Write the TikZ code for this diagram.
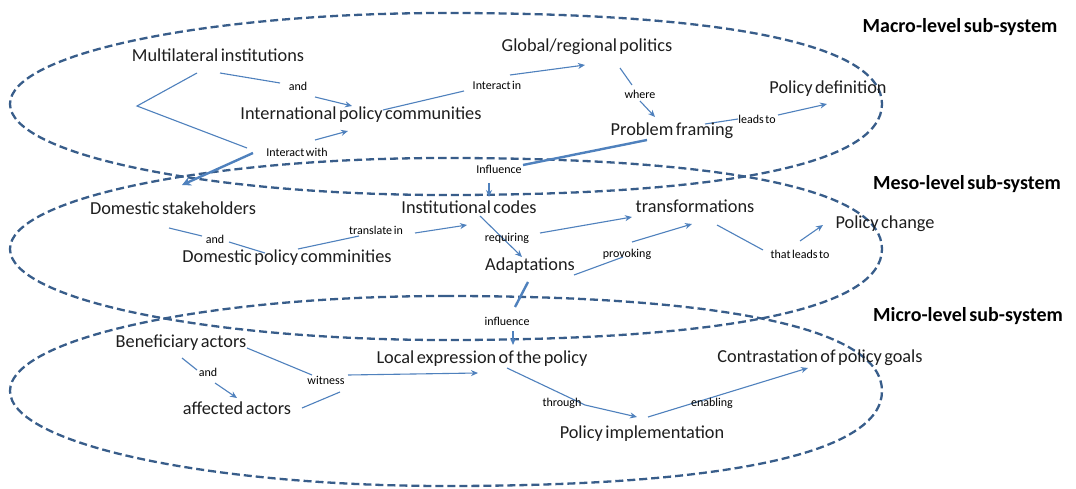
\documentclass[tikz,border=0pt]{standalone}
\usepackage{fontspec}
\setmainfont{Carlito}[WordSpace=0.6]
\usetikzlibrary{arrows.meta}
\definecolor{arr}{RGB}{79,129,189}
\definecolor{dsh}{RGB}{56,93,138}
\definecolor{txt}{RGB}{30,30,30}
\pgfdeclarelayer{bg}
\pgfsetlayers{bg,main}
% blunt-right oval: cx, cy, rx, ry
\newcommand\eggpath[4]{%
  \draw[lvl] (#1,#2-#4) .. controls (#1-0.552*#3,#2-#4) and (#1-#3,#2-0.552*#4) .. (#1-#3,#2)
    .. controls (#1-#3,#2+0.552*#4) and (#1-0.552*#3,#2+#4) .. (#1,#2+#4)
    .. controls (#1+0.65*#3,#2+#4) and (#1+#3,#2+0.65*#4) .. (#1+#3,#2)
    .. controls (#1+#3,#2-0.65*#4) and (#1+0.65*#3,#2-#4) .. cycle;}
\begin{document}
\begin{tikzpicture}[x=1pt,y=-1pt,
  lvl/.style={draw=dsh,line width=2.3pt,dash pattern=on 8pt off 4pt},
  conn/.style={draw=arr,line width=1.1pt},
  arrw/.style={conn,-{Stealth[length=7pt,width=6pt]}},
  heavy/.style={draw=arr,line width=2.4pt},
  heavyarrw/.style={heavy,-{Stealth[length=9pt,width=9pt]}},
  main/.style={inner sep=0pt,text=txt,font=\fontsize{18.3}{21}\selectfont},
  lbl/.style={inner sep=0pt,text=black,font=\fontsize{12}{14}\selectfont},
  hdr/.style={inner sep=0pt,text=black,font=\bfseries\fontsize{20}{23}\selectfont}]
\useasboundingbox (0,0) rectangle (1076,489);
\begin{pgfonlayer}{bg}
\fill[white] (0,0) rectangle (1076,489);
% sub-system ovals
\eggpath{446}{104}{436}{91}
\eggpath{446}{249}{436}{91}
\eggpath{446}{391}{436}{95}
\end{pgfonlayer}

% headers
\node[hdr] (hmac) at (960,27) {Macro-level sub-system};
\node[hdr] (hmes) at (967,184) {Meso-level sub-system};
\node[hdr] (hmic) at (968,316) {Micro-level sub-system};

% macro nodes
\node[main] (mi) at (218,55) {Multilateral institutions};
\node[main] (gp) at (587,47) {Global/regional politics};
\node[main] (ipc) at (361,115) {International policy communities};
\node[main] (pd) at (828,89) {Policy definition};
\node[main] (pf) at (672,131) {Problem framing};
\node[lbl] (and1) at (298,86) {and};
\node[lbl] (intin) at (497,85) {Interact in};
\node[lbl] (where) at (640,94) {where};
\node[lbl] (leadsto) at (757,119) {leads to};
\node[lbl] (intwith) at (297,152) {Interact with};
\node[lbl] (infl1) at (499,169) {Influence};
\coordinate (brk) at (137,106);

% meso nodes
\node[main] (ds) at (173,208) {Domestic stakeholders};
\node[main] (ic) at (469,207) {Institutional codes};
\node[main] (tr) at (695,206) {transformations};
\node[main] (pc) at (885,224) {Policy change};
\node[main] (dpc) at (287,258) {Domestic policy comminities};
\node[main] (ad) at (530,266) {Adaptations};
\node[lbl] (and2) at (215,239) {and};
\node[lbl] (transin) at (376,230) {translate in};
\node[lbl] (requiring) at (507,238) {requiring};
\node[lbl] (provoking) at (627,254) {provoking};
\node[lbl] (thatleads) at (800,254) {that leads to};
\node[lbl] (infl2) at (507,321) {influence};

% micro nodes
\node[main] (ba) at (181,343) {Beneficiary actors};
\node[main] (le) at (482,359) {Local expression of the policy};
\node[main] (cpg) at (820,358) {Contrastation of policy goals};
\node[main] (aa) at (237,408) {affected actors};
\node[main] (pimp) at (642,434) {Policy implementation};
\node[lbl] (and3) at (208,372) {and};
\node[lbl] (witness) at (326,380) {witness};
\node[lbl] (through) at (562,403) {through};
\node[lbl] (enabling) at (712,403) {enabling};

\begin{pgfonlayer}{bg}
% macro connectors
\draw[conn] ([shift={(2,18)}]mi.center) -- ([shift={(-18,-3)}]and1.center);
\draw[arrw] ([shift={(17,11)}]and1.center) -- ([shift={(-9,-9)}]ipc.center);
\draw[conn] ([shift={(-21,18)}]mi.center) -- (brk) -- ([shift={(-50,-4)}]intwith.center);
\draw[arrw] ([shift={(18,-12)}]intwith.center) -- ([shift={(-13,16)}]ipc.center);
\draw[heavyarrw] ([shift={(-44,1)}]intwith.center) -- ([shift={(9,-23)}]ds.center);
\draw[conn] ([shift={(22,-5)}]ipc.center) -- ([shift={(-33,6)}]intin.center);
\draw[arrw] ([shift={(13,-10)}]intin.center) -- ([shift={(-2,18)}]gp.center);
\draw[conn] ([shift={(33,21)}]gp.center) -- ([shift={(-8,-9)}]where.center);
\draw[arrw] ([shift={(0,7)}]where.center) -- ([shift={(-17,-14)}]pf.center);
\draw[conn] ([shift={(33,-7)}]pf.center) -- ([shift={(-19,0)}]leadsto.center);
\draw[arrw] ([shift={(21,-4)}]leadsto.center) -- ([shift={(-1,15)}]pd.center);
\draw[heavy] ([shift={(-25,9)}]pf.center) -- ([shift={(24,-4)}]infl1.center);
\draw[arrw,line width=1.6pt] ([shift={(-10,14)}]infl1.center) -- ([shift={(20,-10)}]ic.center);

% meso connectors
\draw[conn] ([shift={(-4,20)}]ds.center) -- ([shift={(-13,-3)}]and2.center);
\draw[conn] ([shift={(14,3)}]and2.center) -- ([shift={(-22,-5)}]dpc.center);
\draw[conn] ([shift={(11,-9)}]dpc.center) -- ([shift={(-17,6)}]transin.center);
\draw[arrw] ([shift={(39,3)}]transin.center) -- ([shift={(-2,18)}]ic.center);
\draw[arrw] ([shift={(11,9)}]ic.center) -- ([shift={(-8,-9)}]ad.center);
\draw[arrw] ([shift={(33,-5)}]requiring.center) -- ([shift={(-63,11)}]tr.center);
\draw[conn] ([shift={(44,9)}]ad.center) -- ([shift={(-4,3)}]provoking.center);
\draw[arrw] ([shift={(5,-12)}]provoking.center) -- ([shift={(-3,18)}]tr.center);
\draw[conn] ([shift={(22,19)}]tr.center) -- ([shift={(-37,-4)}]thatleads.center);
\draw[arrw] ([shift={(0,-13)}]thatleads.center) -- ([shift={(-62,1)}]pc.center);
\draw[heavy] ([shift={(-2,16)}]ad.center) -- ([shift={(8,-14)}]infl2.center);
\draw[arrw,line width=1.6pt] ([shift={(6,10)}]infl2.center) -- ([shift={(31,-14)}]le.center);

% micro connectors
\draw[conn] ([shift={(1,15)}]ba.center) -- ([shift={(-11,-2)}]and3.center);
\draw[arrw] ([shift={(7,11)}]and3.center) -- ([shift={(0,-10)}]aa.center);
\draw[conn] ([shift={(66,5)}]ba.center) -- ([shift={(-14,-5)}]witness.center);
\draw[conn] ([shift={(65,0)}]aa.center) -- ([shift={(14,12)}]witness.center);
\draw[arrw] ([shift={(22,-5)}]witness.center) -- ([shift={(-4,14)}]le.center);
\draw[arrw] ([shift={(25,9)}]le.center) -- ([shift={(23,2)}]through.center) -- ([shift={(-5,-17)}]pimp.center);
\draw[arrw] ([shift={(6,-17)}]pimp.center) -- ([shift={(-12,10)}]cpg.center);
\end{pgfonlayer}
\end{tikzpicture}
\end{document}
